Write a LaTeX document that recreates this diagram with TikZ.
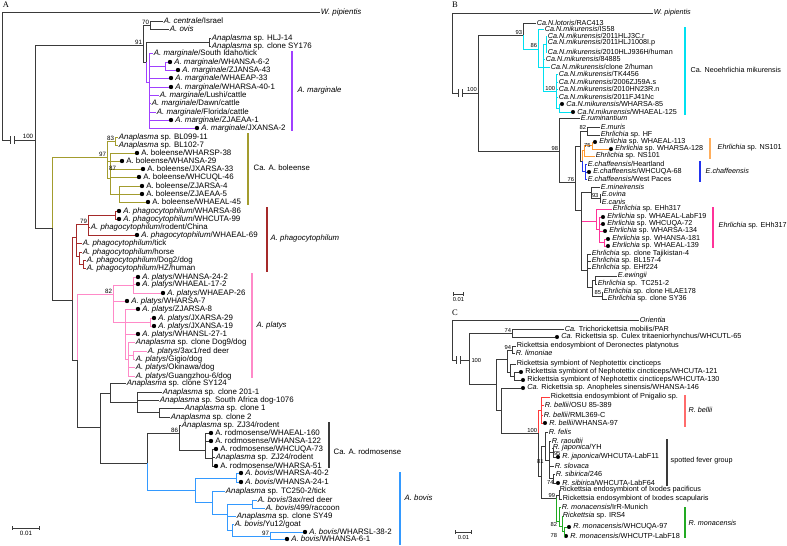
\documentclass[tikz,border=0pt]{standalone}
\usepackage{fontspec}
\setmainfont{Liberation Sans}
\newfontfamily\panelfont{Liberation Serif}
\usetikzlibrary{arrows.meta}
\definecolor{br-gray}{HTML}{3A3A3A}
\definecolor{marg-purple}{HTML}{A040FF}
\definecolor{bol-olive}{HTML}{A39C2E}
\definecolor{pha-red}{HTML}{A52A2A}
\definecolor{pla-pink}{HTML}{FF8AC8}
\definecolor{bov-blue}{HTML}{3399FF}
\definecolor{mik-cyan}{HTML}{00E0F0}
\definecolor{ns-orange}{HTML}{FF9A33}
\definecolor{cha-blue}{HTML}{2233EE}
\definecolor{ehh-pink}{HTML}{FF3399}
\definecolor{bel-red}{HTML}{FF3B3B}
\definecolor{mon-green}{HTML}{22AA22}
% leaf with plain branch end / leaf with a dot
\newcommand{\tleaf}[4]{\node[leaf] (#1) at (#2,#3) {#4};}
\newcommand{\dleaf}[4]{\node[ldot] (#1) at (#2,#3) {};
  \node[leaf] (#1t) at (#2+3.4,#3) {#4};}
\newcommand{\cutbar}[1]{\draw[br] (#1) ++(0,-4) -- ++(0,8);}
\begin{document}
\begin{tikzpicture}[x=1pt, y=-1pt,
    br/.style={line width=1pt, draw=br-gray},
    leaf/.style={anchor=west, inner sep=0.7pt, font=\fontsize{7.2}{8}\selectfont},
    ldot/.style={circle, fill=black, inner sep=0pt, minimum size=4.1pt},
    boot/.style={inner sep=0.3pt, font=\fontsize{5.8}{6}\selectfont},
    bracket/.style={line width=1.5pt},
    clab/.style={anchor=west, inner sep=0.5pt, font=\fontsize{7.2}{8}\selectfont},
    panel/.style={inner sep=0pt, font=\panelfont\fontsize{8.5}{9}\selectfont},
    sbar/.style={line width=0.9pt, draw=br-gray, {Bar[width=3.5pt]}-{Bar[width=3.5pt]}}]
\useasboundingbox[fill=white] (0,0) rectangle (787,546);

% ================= panel A =================
\begin{scope}[leaf/.style={anchor=west, inner sep=0.7pt, font=\fontsize{7.9}{8.5}\selectfont},
    clab/.style={anchor=west, inner sep=0.5pt, font=\fontsize{7.8}{8.5}\selectfont},
    ldot/.style={circle, fill=black, inner sep=0pt, minimum size=4.4pt},
    boot/.style={inner sep=0.3pt, font=\fontsize{6.2}{6.5}\selectfont}]
\node[panel] (pA) at (6,5) {A};
\coordinate (aTop) at (2,12);
\tleaf{aWp}{320}{12}{\textit{W. pipientis}}
\draw[br] (aTop) -- (aWp.west);
\coordinate (aCut1) at (10,140);
\coordinate (aCut2) at (14,140);
\coordinate (a100) at (35,140);
\draw[br] (aTop) |- (aCut1);
\draw[br] (aCut2) -- (a100);
\cutbar{aCut1} \cutbar{aCut2}
\node[boot, anchor=south] (aBs100) at (28,139) {100};

\coordinate (a91) at (143,45);
\coordinate (a70) at (150,25);
\coordinate (a146) at (146,62);
\coordinate (aHL) at (209,42);
\coordinate (aMg) at (149,82);
\coordinate (aMgS) at (165,66);
\coordinate (a52) at (52,228);
\coordinate (aBo) at (107,157);
\coordinate (aB83) at (115,141);
\coordinate (aB87) at (110,178);
\coordinate (aBz) at (119,194);
\coordinate (aX72) at (72,300);
\coordinate (aPh) at (76,237);
\coordinate (a79) at (88,224);
\coordinate (aP1) at (115,215);
\coordinate (aPh2) at (79,256);
\coordinate (aPh3) at (83,264);
\coordinate (aX77) at (77,360);
\coordinate (aPl) at (113,294);
\coordinate (aPl1) at (133,285);
\coordinate (aPl2) at (125,322);
\coordinate (aPl3) at (150,322);
\coordinate (aPl4) at (128,359);
\coordinate (aPl5) at (133,355);
\coordinate (a100b) at (100,427);
\coordinate (a110) at (110,393);
\coordinate (a137) at (137,402);
\coordinate (a159) at (159,412);
\coordinate (a147) at (147,463);
\coordinate (a86) at (179,433);
\coordinate (aRd) at (205,450);
\coordinate (aRd2) at (212,458);
\coordinate (aBv) at (195,490);
\coordinate (aBv1) at (236,478);
\coordinate (aBv2) at (212,502);
\coordinate (aBv3) at (227,514);
\coordinate (aBv4) at (252,504);
\coordinate (aBv5) at (232,530);
\coordinate (aBv6) at (270,536);

\tleaf{aCen}{163}{21}{\textit{A. centrale}/Israel}
\tleaf{aOvi}{169}{29}{\textit{A. ovis}}
\tleaf{aHlj}{211}{38}{\textit{Anaplasma} sp. HLJ-14}
\tleaf{aSy176}{211}{46}{\textit{Anaplasma} sp. clone SY176}
\tleaf{aIda}{153}{53}{\textit{A. marginale}/South Idaho/tick}
\dleaf{aMg62}{170}{62}{\textit{A. marginale}/WHANSA-6-2}
\dleaf{aMg43}{178}{70}{\textit{A. marginale}/ZJANSA-43}
\dleaf{aMg33}{171}{78}{\textit{A. marginale}/WHAEAP-33}
\dleaf{aMg40}{171}{87}{\textit{A. marginale}/WHARSA-40-1}
\tleaf{aLus}{159}{95}{\textit{A. marginale}/Lushi/cattle}
\tleaf{aDaw}{151}{103}{\textit{A. marginale}/Dawn/cattle}
\tleaf{aFlo}{156}{112}{\textit{A. marginale}/Florida/cattle}
\dleaf{aMg1}{171}{120}{\textit{A. marginale}/ZJAEAA-1}
\dleaf{aMg2}{197}{128}{\textit{A. marginale}/JXANSA-2}

\tleaf{aBl99}{118}{137}{\textit{Anaplasma} sp. BL099-11}
\tleaf{aBl02}{118}{145}{\textit{Anaplasma} sp. BL102-7}
\dleaf{aBo38}{137}{153}{A. boleense/WHARSP-38}
\dleaf{aBo29}{122}{161}{A. boleense/WHANSA-29}
\dleaf{aBo33}{143}{169}{A. boleense/JXARSA-33}
\dleaf{aBo46}{139}{177}{A. boleense/WHCUQL-46}
\dleaf{aBo4}{142}{186}{A. boleense/ZJARSA-4}
\dleaf{aBo5}{142}{194}{A. boleense/ZJAEAA-5}
\dleaf{aBo45}{148}{202}{A. boleense/WHAEAL-45}

\dleaf{aPh86}{119}{211}{\textit{A. phagocytophilum}/WHARSA-86}
\dleaf{aPh99}{119}{219}{\textit{A. phagocytophilum}/WHCUTA-99}
\tleaf{aPhRo}{90}{227}{\textit{A. phagocytophilum}/rodent/China}
\dleaf{aPh69}{137}{235}{\textit{A. phagocytophilum}/WHAEAL-69}
\tleaf{aPhTi}{82}{243}{\textit{A. phagocytophilum}/tick}
\tleaf{aPhHo}{82}{252}{\textit{A. phagocytophilum}/horse}
\tleaf{aPhDo}{86}{260}{\textit{A. phagocytophilum}/Dog2/dog}
\tleaf{aPhHz}{86}{268}{\textit{A. phagocytophilum}/HZ/human}

\dleaf{aPl242}{138}{277}{\textit{A. platys}/WHANSA-24-2}
\dleaf{aPl172}{138}{284}{\textit{A. platys}/WHAEAL-17-2}
\dleaf{aPl26}{163}{293}{\textit{A. platys}/WHAEAP-26}
\dleaf{aPl7}{127}{301}{\textit{A. platys}/WHARSA-7}
\dleaf{aPl8}{138}{309}{\textit{A. platys}/ZJARSA-8}
\dleaf{aPl29}{154}{318}{\textit{A. platys}/JXARSA-29}
\dleaf{aPl19}{154}{326}{\textit{A. platys}/JXANSA-19}
\dleaf{aPl271}{138}{334}{\textit{A. platys}/WHANSL-27-1}
\tleaf{aPlD9}{135}{342}{\textit{Anaplasma} sp. clone Dog9/dog}
\tleaf{aPlRd}{147}{351}{\textit{A. platys}/3ax1/red deer}
\tleaf{aPlGi}{135}{359}{\textit{A. platys}/Gigio/dog}
\tleaf{aPlOk}{135}{367}{\textit{A. platys}/Okinawa/dog}
\tleaf{aPlGz}{135}{376}{\textit{A. platys}/Guangzhou-6/dog}

\tleaf{aSy124}{126}{383}{\textit{Anaplasma} sp. clone SY124}
\tleaf{aC201}{162}{392}{\textit{Anaplasma} sp. clone 201-1}
\tleaf{aSaf}{159}{400}{\textit{Anaplasma} sp. South Africa dog-1076}
\tleaf{aCl1}{184}{408}{\textit{Anaplasma} sp. clone 1}
\tleaf{aCl2}{170}{417}{\textit{Anaplasma} sp. clone 2}
\tleaf{aZj34}{181}{425}{\textit{Anaplasma} sp. ZJ34/rodent}
\dleaf{aRd160}{211}{433}{A. rodmosense/WHAEAL-160}
\dleaf{aRd122}{211}{441}{A. rodmosense/WHANSA-122}
\dleaf{aRd73}{216}{449}{A. rodmosense/WHCUQA-73}
\tleaf{aZj24}{215}{457}{\textit{Anaplasma} sp. ZJ24/rodent}
\dleaf{aRd51}{216}{466}{A. rodmosense/WHARSA-51}

\dleaf{aBv402}{241}{473}{\textit{A. bovis}/WHARSA-40-2}
\dleaf{aBv241}{241}{482}{\textit{A. bovis}/WHANSA-24-1}
\tleaf{aTc250}{225}{491}{\textit{Anaplasma} sp. TC250-2/tick}
\tleaf{aBvRd}{257}{500}{\textit{A. bovis}/3ax/red deer}
\tleaf{aBvRc}{265}{508}{\textit{A. bovis}/499/raccoon}
\tleaf{aSy49}{236}{516}{\textit{Anaplasma} sp. clone SY49}
\tleaf{aYu12}{234}{524}{\textit{A. bovis}/Yu12/goat}
\dleaf{aBv382}{305}{532}{\textit{A. bovis}/WHARSL-38-2}
\dleaf{aBv61}{287}{539}{\textit{A. bovis}/WHANSA-6-1}

% branches A
\draw[br] (a100) |- (a91);
\draw[br] (a100) |- (a52);
\draw[br] (a91) |- (a70);
\draw[br] (a91) |- (a146);
\foreach \c in {aCen,aOvi} \draw[br] (a70) |- (\c.west);
\draw[br] (a146) |- (aHL);
\foreach \c in {aHlj,aSy176} \draw[br] (aHL) |- (\c.west);
\draw[br, draw=marg-purple] (a146) |- (aMg);
\draw[br, draw=marg-purple] (aMg) |- (aMgS);
\foreach \c in {aIda,aMg33,aMg40,aLus,aDaw,aFlo,aMg1,aMg2}
  \draw[br, draw=marg-purple] (aMg) |- (\c.west);
\foreach \c in {aMg62,aMg43} \draw[br, draw=marg-purple] (aMgS) |- (\c.west);
\draw[br, draw=bol-olive] (a52) |- (aBo);
\draw[br, draw=bol-olive] (aBo) |- (aB83);
\draw[br, draw=bol-olive] (aBo) |- (aB87);
\draw[br, draw=bol-olive] (aBo) |- (aBo29.west);
\foreach \c in {aBl99,aBl02} \draw[br, draw=bol-olive] (aB83) |- (\c.west);
\foreach \c in {aBo38,aBo33,aBo46} \draw[br, draw=bol-olive] (aB87) |- (\c.west);
\draw[br, draw=bol-olive] (aB87) |- (aBz);
\foreach \c in {aBo4,aBo5,aBo45} \draw[br, draw=bol-olive] (aBz) |- (\c.west);
\draw[br] (a52) |- (aX72);
\draw[br, draw=pha-red] (aX72) |- (aPh);
\draw[br, draw=pha-red] (aPh) |- (a79);
\draw[br, draw=pha-red] (a79) |- (aP1);
\foreach \c in {aPh86,aPh99} \draw[br, draw=pha-red] (aP1) |- (\c.west);
\foreach \c in {aPhRo,aPh69} \draw[br, draw=pha-red] (a79) |- (\c.west);
\draw[br, draw=pha-red] (aPh) |- (aPhTi.west);
\draw[br, draw=pha-red] (aPh) |- (aPh2);
\draw[br, draw=pha-red] (aPh2) |- (aPhHo.west);
\draw[br, draw=pha-red] (aPh2) |- (aPh3);
\foreach \c in {aPhDo,aPhHz} \draw[br, draw=pha-red] (aPh3) |- (\c.west);
\draw[br] (aX72) |- (aX77);
\draw[br, draw=pla-pink] (aX77) |- (aPl);
\draw[br, draw=pla-pink] (aPl) |- (aPl1);
\draw[br, draw=pla-pink] (aPl) |- (aPl7.west);
\draw[br, draw=pla-pink] (aPl) |- (aPl2);
\foreach \c in {aPl242,aPl172,aPl26} \draw[br, draw=pla-pink] (aPl1) |- (\c.west);
\foreach \c in {aPl8,aPl271} \draw[br, draw=pla-pink] (aPl2) |- (\c.west);
\draw[br, draw=pla-pink] (aPl2) |- (aPl3);
\foreach \c in {aPl29,aPl19} \draw[br, draw=pla-pink] (aPl3) |- (\c.west);
\draw[br, draw=pla-pink] (aPl2) |- (aPl4);
\foreach \c in {aPlD9,aPlOk,aPlGz} \draw[br, draw=pla-pink] (aPl4) |- (\c.west);
\draw[br, draw=pla-pink] (aPl4) |- (aPl5);
\foreach \c in {aPlRd,aPlGi} \draw[br, draw=pla-pink] (aPl5) |- (\c.west);
\draw[br] (aX77) |- (a100b);
\draw[br] (a100b) |- (a110);
\draw[br] (a110) |- (aSy124.west);
\draw[br] (a110) |- (a137);
\foreach \c in {aC201,aSaf} \draw[br] (a137) |- (\c.west);
\draw[br] (a137) |- (a159);
\foreach \c in {aCl1,aCl2} \draw[br] (a159) |- (\c.west);
\draw[br] (a100b) |- (a147);
\draw[br] (a147) |- (a86);
\draw[br] (a86) |- (aZj34.west);
\draw[br] (a86) |- (aRd);
\foreach \c in {aRd160,aRd122} \draw[br] (aRd) |- (\c.west);
\draw[br] (aRd) |- (aRd2);
\foreach \c in {aRd73,aZj24,aRd51} \draw[br] (aRd2) |- (\c.west);
\draw[br, draw=bov-blue] (a147) |- (aBv);
\draw[br, draw=bov-blue] (aBv) |- (aBv1);
\foreach \c in {aBv402,aBv241} \draw[br, draw=bov-blue] (aBv1) |- (\c.west);
\draw[br, draw=bov-blue] (aBv) |- (aBv2);
\draw[br, draw=bov-blue] (aBv2) |- (aTc250.west);
\draw[br, draw=bov-blue] (aBv2) |- (aBv3);
\draw[br, draw=bov-blue] (aBv3) |- (aBv4);
\foreach \c in {aBvRd,aBvRc} \draw[br, draw=bov-blue] (aBv4) |- (\c.west);
\draw[br, draw=bov-blue] (aBv3) |- (aSy49.west);
\draw[br, draw=bov-blue] (aBv3) |- (aBv5);
\draw[br, draw=bov-blue] (aBv5) |- (aYu12.west);
\draw[br, draw=bov-blue] (aBv5) |- (aBv6);
\foreach \c in {aBv382,aBv61} \draw[br, draw=bov-blue] (aBv6) |- (\c.west);

% support values A
\node[boot, anchor=south east] (aBs70) at (149.5,25.5) {70};
\node[boot, anchor=south east] (aBs91) at (142.5,45) {91};
\node[boot, anchor=south east] (aBs83) at (114.5,141) {83};
\node[boot, anchor=south east] (aBs97) at (106.5,157) {97};
\node[boot] (aBs87) at (112.5,168) {87};
\node[boot, anchor=south east] (aBs79) at (87.5,224.5) {79};
\node[boot, anchor=south east] (aBs82) at (112.5,294) {82};
\node[boot, anchor=south east] (aBs86) at (178.5,433) {86};
\node[boot, anchor=south east] (aBs97b) at (269.5,536) {97};

% clade bars A
\draw[bracket, marg-purple] (292,51) -- (292,131);
\node[clab] (aMgLab) at (297,90) {\textit{A. marginale}};
\draw[bracket, bol-olive] (248,133) -- (248,205);
\node[clab] (aBoLab) at (253,168) {Ca. A. boleense};
\draw[bracket, pha-red] (267,207) -- (267,272);
\node[clab] (aPhLab) at (270,238) {\textit{A. phagocytophilum}};
\draw[bracket, pla-pink] (252,273) -- (252,378);
\node[clab] (aPlLab) at (256,325) {\textit{A. platys}};
\draw[bracket, br-gray] (329,422) -- (329,468);
\node[clab] (aRdLab) at (333,452) {Ca. A. rodmosense};
\draw[bracket, bov-blue] (400,472) -- (400,545);
\node[clab] (aBvLab) at (404,498) {\textit{A. bovis}};

\coordinate (aS1) at (12,528);
\coordinate (aS2) at (40,528);
\draw[sbar] (aS1) -- (aS2);
\node[boot, anchor=north] (aSLab) at (26,531) {0.01};
\end{scope}

% ================= panel B =================
\node[panel] (pB) at (455,5) {B};
\coordinate (bTop) at (452,13);
\tleaf{bWp}{653}{13}{\textit{W. pipientis}}
\draw[br] (bTop) -- (bWp.west);
\coordinate (bCut1) at (458,93);
\coordinate (bCut2) at (462,93);
\coordinate (b100) at (478,93);
\draw[br] (bTop) |- (bCut1);
\draw[br] (bCut2) -- (b100);
\cutbar{bCut1} \cutbar{bCut2}
\node[boot, anchor=south] (bBs100) at (472,92.5) {100};

\coordinate (b93) at (523,35);
\coordinate (bC0) at (538,49);
\coordinate (bC1) at (543,67);
\coordinate (bC2) at (546,44);
\coordinate (bC3) at (556,91);
\coordinate (bC4) at (559,108);
\coordinate (b98) at (559,151);
\coordinate (b76) at (575,182);
\coordinate (bU) at (580,146);
\coordinate (b82) at (587,131);
\coordinate (bOB) at (582,161);
\coordinate (bOr) at (584,150);
\coordinate (b75) at (592,145.5);
\coordinate (bBl) at (585,171);
\coordinate (bL) at (581,210);
\coordinate (bM) at (591,192);
\coordinate (b93e) at (600,198);
\coordinate (bP) at (596,221);
\coordinate (bP2) at (599,229);
\coordinate (bP3) at (604,242.5);
\coordinate (bT) at (587,270);
\coordinate (bT2) at (592,287);
\coordinate (bE) at (595,280);
\coordinate (b85) at (602,296);

\tleaf{bLot}{536}{23}{\textit{Ca.N.lotoris}/RAC413}
\tleaf{bIs58}{544}{29}{\textit{Ca.N.mikurensis}/IS58}
\tleaf{bHlj3}{547}{36}{\textit{Ca.N.mikurensis}/2011HLJ3C.r}
\tleaf{bHlj10}{547}{43}{\textit{Ca.N.mikurensis}/2011HLJ1008I.p}
\tleaf{bHlj9}{547}{52}{\textit{Ca.N.mikurensis}/2010HLJ936H/human}
\tleaf{b8488}{545}{59}{\textit{Ca.N.mikurensis}/84885}
\tleaf{bCl2}{550}{67}{\textit{Ca.N.mikurensis}/clone 2/human}
\tleaf{bTk}{558}{74}{\textit{Ca.N.mikurensis}/TK4456}
\tleaf{bZj59}{558}{82}{\textit{Ca.N.mikurensis}/2006ZJ59A.s}
\tleaf{bHn23}{558}{89}{\textit{Ca.N.mikurensis}/2010HN23R.n}
\tleaf{bFj41}{558}{97}{\textit{Ca.N.mikurensis}/2011FJ41Nc}
\dleaf{bMk85}{562}{104}{\textit{Ca.N.mikurensis}/WHARSA-85}
\dleaf{bMk125}{573}{112}{\textit{Ca.N.mikurensis}/WHAEAL-125}
\tleaf{bRum}{580}{118}{\textit{E.ruminantium}}
\tleaf{bMur}{600}{127}{\textit{E.muris}}
\tleaf{bHf}{600}{135}{\textit{Ehrlichia} sp. HF}
\dleaf{b113}{595}{142}{\textit{Ehrlichia} sp. WHAEAL-113}
\dleaf{b128}{611}{149}{\textit{Ehrlichia} sp. WHARSA-128}
\tleaf{bNs}{595}{156}{\textit{Ehrlichia} sp. NS101}
\tleaf{bHea}{587}{164}{\textit{E.chaffeensis}/Heartland}
\dleaf{b68}{589}{172}{\textit{E.chaffeensis}/WHCUQA-68}
\tleaf{bWpa}{587}{179}{\textit{E.chaffeensis}/West Paces}
\tleaf{bMin}{600}{187}{\textit{E.mineirensis}}
\tleaf{bOvi}{601}{194}{\textit{E.ovina}}
\tleaf{bCan}{601}{202}{\textit{E.canis}}
\tleaf{bEhh}{612}{209}{\textit{Ehrlichia} sp. EHh317}
\dleaf{bF19}{603}{217}{\textit{Ehrlichia} sp. WHAEAL-LabF19}
\dleaf{b72}{603}{224}{\textit{Ehrlichia} sp. WHCUQA-72}
\dleaf{b134}{605}{231}{\textit{Ehrlichia} sp. WHARSA-134}
\dleaf{b181}{608}{239}{\textit{Ehrlichia} sp. WHANSA-181}
\dleaf{b139}{608}{246}{\textit{Ehrlichia} sp. WHAEAL-139}
\tleaf{bTaj}{591}{254}{\textit{Ehrlichia} sp. clone Tajikistan-4}
\tleaf{bBl157}{591}{261}{\textit{Ehrlichia} sp. BL157-4}
\tleaf{bEhf}{591}{268}{\textit{Ehrlichia} sp. EHf224}
\tleaf{bEwi}{617}{276}{\textit{E.ewingii}}
\tleaf{bTc251}{597}{284}{\textit{Ehrlichia} sp.\ \ TC251-2}
\tleaf{bHlae}{603}{292}{\textit{Ehrlichia} sp. clone HLAE178}
\tleaf{bSy36}{607}{299}{\textit{Ehrlichia} sp. clone SY36}

% branches B
\draw[br] (b100) |- (b93);
\draw[br] (b100) |- (b98);
\draw[br] (b93) |- (bLot.west);
\draw[br, draw=mik-cyan] (b93) |- (bC0);
\draw[br, draw=mik-cyan] (bC0) |- (bIs58.west);
\draw[br, draw=mik-cyan] (bC0) |- (bC1);
\draw[br, draw=mik-cyan] (bC1) |- (bC2);
\foreach \c in {bHlj3,bHlj10,bHlj9} \draw[br, draw=mik-cyan] (bC2) |- (\c.west);
\foreach \c in {b8488,bCl2} \draw[br, draw=mik-cyan] (bC1) |- (\c.west);
\draw[br, draw=mik-cyan] (bC1) |- (bC3);
\foreach \c in {bTk,bZj59,bHn23,bFj41} \draw[br, draw=mik-cyan] (bC3) |- (\c.west);
\draw[br, draw=mik-cyan] (bC3) |- (bC4);
\foreach \c in {bMk85,bMk125} \draw[br, draw=mik-cyan] (bC4) |- (\c.west);
\draw[br] (b98) |- (bRum.west);
\draw[br] (b98) |- (b76);
\draw[br] (b76) |- (bU);
\draw[br] (bU) |- (b82);
\foreach \c in {bMur,bHf} \draw[br] (b82) |- (\c.west);
\draw[br] (bU) |- (bOB);
\draw[br, draw=ns-orange] (bOB) |- (bOr);
\draw[br, draw=ns-orange] (bOr) |- (b75);
\foreach \c in {b113,b128} \draw[br, draw=ns-orange] (b75) |- (\c.west);
\draw[br, draw=ns-orange] (bOr) |- (bNs.west);
\draw[br, draw=cha-blue] (bOB) |- (bBl);
\foreach \c in {bHea,b68,bWpa} \draw[br, draw=cha-blue] (bBl) |- (\c.west);
\draw[br] (b76) |- (bL);
\draw[br] (bL) |- (bM);
\draw[br] (bM) |- (bMin.west);
\draw[br] (bM) |- (b93e);
\foreach \c in {bOvi,bCan} \draw[br] (b93e) |- (\c.west);
\draw[br, draw=ehh-pink] (bL) |- (bP);
\draw[br, draw=ehh-pink] (bP) |- (bEhh.west);
\draw[br, draw=ehh-pink] (bP) |- (bP2);
\foreach \c in {bF19,b72,b134} \draw[br, draw=ehh-pink] (bP2) |- (\c.west);
\draw[br, draw=ehh-pink] (bP2) |- (bP3);
\foreach \c in {b181,b139} \draw[br, draw=ehh-pink] (bP3) |- (\c.west);
\draw[br] (bL) |- (bT);
\foreach \c in {bTaj,bBl157,bEhf} \draw[br] (bT) |- (\c.west);
\draw[br] (bT) |- (bT2);
\draw[br] (bT2) |- (bE);
\foreach \c in {bEwi,bTc251} \draw[br] (bE) |- (\c.west);
\draw[br] (bT2) |- (b85);
\foreach \c in {bHlae,bSy36} \draw[br] (b85) |- (\c.west);

% support values B
\node[boot, anchor=south east] (bBs93) at (522.5,35) {93};
\node[boot, anchor=south east] (bBs86) at (537.5,48) {86};
\node[boot, anchor=south east] (bBs100c) at (555.5,91) {100};
\node[boot, anchor=south east] (bBs98) at (558.5,151) {98};
\node[boot, anchor=south east] (bBs76) at (574.5,182) {76};
\node[boot, anchor=south east] (bBs82) at (586.5,130) {82};
\node[boot, anchor=south east] (bBs75) at (591,148) {75};
\node[boot, anchor=south west] (bBs93e) at (591.5,198) {93};
\node[boot, anchor=south east] (bBs85) at (601.5,295) {85};

% clade bars B
\draw[bracket, mik-cyan] (685,27) -- (685,115);
\node[clab] (bMkLab) at (690,70) {Ca. Neoehrlichia mikurensis};
\draw[bracket, ns-orange!80] (710,138) -- (710,159);
\node[clab] (bNsLab) at (717,148) {\textit{Ehrlichia} sp. NS101};
\draw[bracket, cha-blue] (700,161) -- (700,182);
\node[clab] (bChLab) at (705,171) {\textit{E.chaffeensis}};
\draw[bracket, ehh-pink] (713,207) -- (713,248);
\node[clab] (bEhLab) at (718,226) {\textit{Ehrlichia} sp. EHh317};

\coordinate (bS1) at (453,294);
\coordinate (bS2) at (464,294);
\draw[sbar] (bS1) -- (bS2);
\node[boot, anchor=north] (bSLab) at (458.5,297) {0.01};

% ================= panel C =================
\begin{scope}[leaf/.style={anchor=west, inner sep=0.7pt, font=\fontsize{7.3}{8}\selectfont}]
\node[panel] (pC) at (455,313) {C};
\coordinate (cTop) at (452,320);
\tleaf{cOri}{639}{320}{\textit{Orientia}}
\draw[br] (cTop) -- (cOri.west);
\coordinate (cCut1) at (456,360);
\coordinate (cCut2) at (460,360);
\coordinate (c100) at (469,360);
\draw[br] (cTop) |- (cCut1);
\draw[br] (cCut2) -- (c100);
\cutbar{cCut1} \cutbar{cCut2}
\node[boot, anchor=west] (cBs100) at (471,360) {100};

\coordinate (c74) at (512,333);
\coordinate (cX) at (496,384);
\coordinate (cN) at (507,359);
\coordinate (c94) at (512,350);
\coordinate (cNe) at (510,372);
\coordinate (cNe2) at (514,376);
\coordinate (cX2) at (501,410);
\coordinate (cY) at (538,433);
\coordinate (cRB) at (541,410);
\coordinate (cZ) at (541,476);
\coordinate (c81) at (545,446);
\coordinate (cS) at (549,460);
\coordinate (c95) at (553,452.5);
\coordinate (c74s) at (553,478);
\coordinate (c99) at (556,498);
\coordinate (cIx) at (559,495);
\coordinate (cMo) at (559,521);
\coordinate (cMo2) at (562,526);
\coordinate (c82) at (564,531);

\tleaf{cTri}{564}{329}{\textit{Ca.} Trichorickettsia mobilis/PAR}
\dleaf{cCul}{557}{337}{\textit{Ca.} Rickettsia sp. Culex tritaeniorhynchus/WHCUTL-65}
\tleaf{cDer}{516}{346}{Rickettsia endosymbiont of Deronectes platynotus}
\tleaf{cLim}{515}{353}{\textit{R. limoniae}}
\tleaf{cNep}{516}{364}{Rickettsia symbiont of Nephotettix cincticeps}
\dleaf{cN121}{521}{372}{Rickettsia symbiont of Nephotettix cincticeps/WHCUTA-121}
\dleaf{cN130}{523}{380}{Rickettsia symbiont of Nephotettix cincticeps/WHCUTA-130}
\dleaf{cAno}{523}{388}{\textit{Ca.} Rickettsia sp. Anopheles sinensis/WHANSA-146}
\tleaf{cPni}{550}{397}{Rickettsia endosymbiont of Pnigalio sp.}
\tleaf{cOsu}{544}{405}{\textit{R. bellii}/OSU 85-389}
\tleaf{cRml}{543}{415}{\textit{R. bellii}/RML369-C}
\dleaf{cB97}{545}{423}{\textit{R. bellii}/WHANSA-97}
\tleaf{cFel}{548}{432}{\textit{R. felis}}
\tleaf{cRao}{551}{441}{\textit{R. raoultii}}
\tleaf{cJYh}{552}{448}{\textit{R. japonica}/YH}
\dleaf{cJ11}{558}{457}{\textit{R. japonica}/WHCUTA-LabF11}
\tleaf{cSlo}{554}{466}{\textit{R. slovaca}}
\tleaf{cS246}{555}{474}{\textit{R. sibirica}/246}
\dleaf{cS64}{558}{483}{\textit{R. sibirica}/WHCUTA-LabF64}
\tleaf{cPac}{559}{490}{Rickettsia endosymbiont of Ixodes pacificus}
\tleaf{cSca}{562}{499}{Rickettsia endosymbiont of Ixodes scapularis}
\tleaf{cIrr}{561}{507}{\textit{R. monacensis}/IrR-Munich}
\tleaf{cIrs}{562}{516}{\textit{Rickettsia} sp. IRS4}
\dleaf{cM97}{569}{527}{\textit{R. monacensis}/WHCUQA-97}
\dleaf{cM18}{566}{536}{\textit{R. monacensis}/WHCUTP-LabF18}

% branches C
\draw[br] (c100) |- (c74);
\foreach \c in {cTri,cCul} \draw[br] (c74) |- (\c.west);
\draw[br] (c100) |- (cX);
\draw[br] (cX) |- (cN);
\draw[br] (cN) |- (c94);
\foreach \c in {cDer,cLim} \draw[br] (c94) |- (\c.west);
\draw[br] (cN) |- (cNe);
\draw[br] (cNe) |- (cNep.west);
\draw[br] (cNe) |- (cNe2);
\foreach \c in {cN121,cN130} \draw[br] (cNe2) |- (\c.west);
\draw[br] (cX) |- (cX2);
\draw[br] (cX2) |- (cAno.west);
\draw[br] (cX2) |- (cY);
\draw[br, draw=bel-red] (cY) |- (cRB);
\foreach \c in {cPni,cOsu,cRml,cB97} \draw[br, draw=bel-red] (cRB) |- (\c.west);
\draw[br] (cY) |- (cZ);
\draw[br] (cZ) |- (c81);
\draw[br] (c81) |- (cFel.west);
\draw[br] (c81) |- (cS);
\draw[br] (cS) |- (cRao.west);
\draw[br] (cS) |- (c95);
\foreach \c in {cJYh,cJ11} \draw[br] (c95) |- (\c.west);
\draw[br] (cS) |- (cSlo.west);
\draw[br] (cS) |- (c74s);
\foreach \c in {cS246,cS64} \draw[br] (c74s) |- (\c.west);
\draw[br] (cZ) |- (c99);
\draw[br] (c99) |- (cIx);
\foreach \c in {cPac,cSca} \draw[br] (cIx) |- (\c.west);
\draw[br, draw=mon-green] (c99) |- (cMo);
\draw[br, draw=mon-green] (cMo) |- (cIrr.west);
\draw[br, draw=mon-green] (cMo) |- (cMo2);
\draw[br, draw=mon-green] (cMo2) |- (cIrs.west);
\draw[br, draw=mon-green] (cMo2) |- (c82);
\foreach \c in {cM97,cM18} \draw[br, draw=mon-green] (c82) |- (\c.west);

% support values C
\node[boot, anchor=south east] (cBs74) at (511.5,333) {74};
\node[boot, anchor=south east] (cBs94) at (511.5,350) {94};
\node[boot, anchor=south east] (cBs100b) at (537.5,433) {100};
\node[boot, anchor=east] (cBs81) at (544,461) {81};
\node[boot, anchor=west] (cBs95) at (553.5,453) {95};
\node[boot, anchor=east] (cBs74s) at (554,482) {74};
\node[boot, anchor=south east] (cBs99) at (555.5,498) {99};
\node[boot, anchor=east] (cBs82) at (557.5,524) {82};
\node[boot, anchor=east] (cBs78) at (557.5,535) {78};

% clade bars C
\draw[bracket, bel-red!75] (685,395) -- (685,427);
\node[clab] (cBeLab) at (688,410) {\textit{R. bellii}};
\draw[bracket, br-gray] (667,439) -- (667,486);
\node[clab] (cSfLab) at (670,461) {spotted fever group};
\draw[bracket, mon-green] (685,507) -- (685,538);
\node[clab] (cMoLab) at (688,523) {\textit{R. monacensis}};

\coordinate (cS1) at (455,532);
\coordinate (cS2) at (472,532);
\draw[sbar] (cS1) -- (cS2);
\node[boot, anchor=north] (cSLab) at (463.5,535) {0.01};
\end{scope}
\end{tikzpicture}
\end{document}
